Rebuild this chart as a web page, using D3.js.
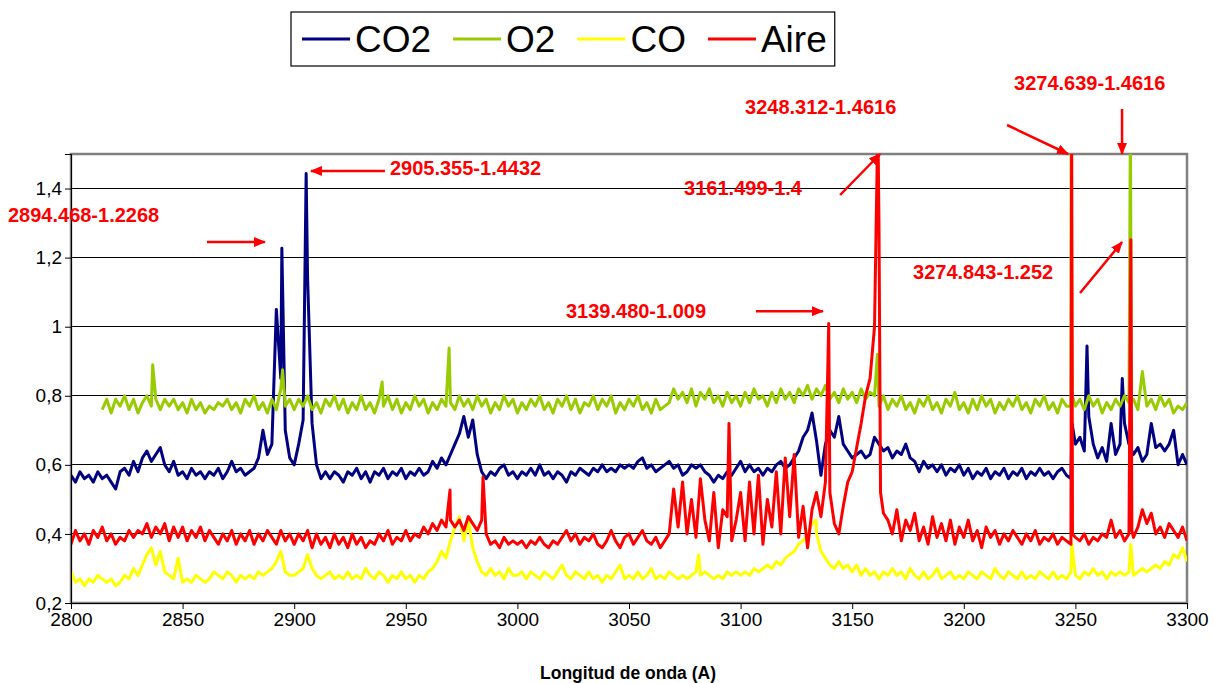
<!DOCTYPE html>
<html>
<head>
<meta charset="utf-8">
<script src="https://cdn.jsdelivr.net/npm/d3@7"></script>
<style>
body { margin: 0; background: #fff; }
svg { display: block; font-family: "Liberation Sans", Arial, sans-serif; }
</style>
</head>
<body>
<svg id="chart" width="1214" height="683"></svg>
<script>
// wavelength grid of the sampled spectra
var waveStart = 2800, waveStep = 2;

// CO2 (one value every 2 A, 2800..3300)
var co2 = [
  .57,.55,.58,.56,.57,.55,.58,.56,.57,.55,.53,.58,.59,.57,.61,.58,.62,.64,.61,.63,.65,.60,.58,.61,.57,
  .58,.56,.59,.57,.58,.56,.58,.57,.59,.56,.58,.61,.58,.59,.57,.58,.59,.62,.70,.63,.66,1.05,.85,.70,.62,
  .60,.66,.73,1.14,.72,.60,.56,.58,.56,.58,.57,.55,.58,.57,.59,.56,.58,.55,.58,.57,.59,.56,.58,.57,.59,
  .56,.58,.57,.59,.57,.58,.61,.59,.62,.60,.63,.66,.69,.74,.68,.73,.63,.58,.56,.58,.57,.59,.60,.57,.58,
  .56,.58,.57,.59,.57,.60,.57,.58,.56,.58,.57,.55,.58,.57,.59,.58,.57,.59,.58,.60,.58,.59,.58,.60,.59,
  .60,.59,.61,.62,.59,.60,.58,.59,.60,.61,.59,.60,.57,.58,.60,.59,.60,.58,.57,.55,.57,.56,.58,.57,.59,
  .61,.58,.60,.58,.59,.57,.59,.58,.60,.61,.59,.60,.62,.64,.68,.70,.75,.67,.57,.66,.70,.68,.74,.66,.64,
  .62,.63,.64,.62,.63,.68,.66,.64,.65,.62,.64,.63,.66,.62,.61,.58,.61,.59,.60,.58,.60,.57,.59,.58,.60,
  .57,.59,.56,.58,.57,.59,.56,.58,.57,.59,.56,.58,.57,.59,.56,.58,.57,.59,.57,.58,.56,.58,.59,.57,.56,
  .66,.68,.64,.74,.66,.62,.65,.61,.72,.63,.66,.72,.66,.63,.65,.61,.63,.72,.65,.66,.64,.66,.70,.60,.63,
  .60
];
var co2Peaks = [[2894.468, 1.2268], [2905.355, 1.4432], [3248.5, 0.72], [3255.2, 0.944], [3271, 0.85]];

// O2
var o2 = [
  null,null,null,null,null,null,null,.76,.79,.75,.79,.77,.80,.76,.79,.75,.78,.80,.77,.79,.76,.79,.77,.79,.76,
  .78,.75,.79,.76,.78,.75,.77,.76,.78,.77,.79,.76,.78,.75,.79,.77,.80,.76,.78,.75,.79,.76,.82,.77,.79,
  .76,.79,.77,.80,.76,.78,.75,.79,.77,.80,.76,.79,.75,.78,.76,.80,.76,.78,.75,.79,.77,.80,.76,.79,.75,
  .78,.76,.80,.77,.79,.75,.78,.76,.79,.77,.78,.76,.80,.77,.79,.76,.80,.77,.79,.75,.78,.76,.80,.77,.79,
  .75,.78,.76,.79,.77,.80,.76,.78,.75,.79,.77,.80,.76,.79,.75,.78,.77,.80,.76,.79,.77,.80,.75,.78,.76,
  .79,.77,.80,.76,.78,.75,.79,.76,.77,.78,.82,.79,.81,.78,.82,.77,.81,.79,.82,.78,.80,.77,.81,.78,.80,
  .77,.81,.78,.82,.79,.80,.77,.81,.78,.82,.79,.81,.78,.82,.80,.83,.79,.82,.80,.83,.79,.81,.78,.82,.79,
  .81,.78,.82,.79,.81,.80,.77,.80,.76,.79,.77,.80,.76,.78,.75,.79,.77,.80,.76,.78,.75,.79,.77,.81,.76,
  .78,.75,.79,.76,.80,.77,.79,.75,.78,.76,.79,.77,.80,.76,.78,.75,.79,.77,.80,.76,.78,.75,.79,.77,.77,
  .77,.79,.76,.80,.77,.79,.75,.78,.76,.79,.77,.80,.78,.79,.76,.87,.77,.79,.76,.80,.77,.79,.75,.77,.76,
  .78
];
var o2Peaks = [[2836.6, 0.89], [2894.8, 0.875], [2939.4, 0.84], [2969.4, 0.938], [3161.3, 0.92],
  [3248.1, 1.6], [3248.6, 0.80], [3274.639, 1.6], [3275.1, 0.79]];

// CO
var co = [
  .29,.26,.27,.25,.27,.26,.28,.27,.26,.27,.25,.26,.28,.27,.30,.28,.31,.34,.36,.31,.35,.29,.28,.27,.33,
  .26,.27,.26,.28,.27,.26,.27,.29,.28,.27,.29,.28,.26,.28,.27,.28,.27,.29,.28,.29,.30,.32,.35,.29,.28,
  .28,.29,.30,.34,.30,.28,.27,.28,.29,.27,.28,.27,.29,.27,.28,.27,.30,.28,.27,.29,.28,.26,.28,.27,.29,
  .27,.28,.26,.28,.27,.29,.30,.32,.35,.33,.38,.42,.45,.38,.44,.36,.32,.29,.28,.30,.28,.29,.27,.30,.28,
  .28,.29,.27,.29,.28,.27,.29,.28,.27,.29,.31,.28,.27,.29,.28,.27,.29,.27,.28,.26,.28,.27,.29,.31,.27,
  .28,.27,.29,.27,.28,.30,.27,.28,.27,.29,.28,.27,.28,.27,.28,.29,.28,.29,.28,.27,.28,.27,.29,.28,.29,
  .28,.29,.28,.30,.29,.30,.31,.30,.32,.31,.33,.34,.35,.37,.38,.40,.43,.40,.35,.33,.31,.30,.32,.30,.31,
  .29,.31,.28,.30,.28,.29,.27,.29,.28,.30,.28,.29,.27,.30,.28,.27,.29,.27,.28,.30,.27,.28,.29,.27,.28,
  .27,.29,.28,.27,.29,.28,.27,.30,.28,.27,.29,.28,.27,.29,.27,.28,.27,.29,.28,.27,.29,.27,.28,.27,.29,
  .28,.27,.29,.28,.30,.28,.29,.27,.29,.28,.29,.28,.29,.28,.29,.30,.29,.30,.31,.30,.32,.31,.34,.33,.36,
  .32
];
var coPeaks = [[3081.2, 0.34], [3133.8, 0.44], [3248.4, 0.37], [3274.8, 0.37]];

// Aire
var aire = [
  .37,.41,.38,.40,.37,.41,.39,.42,.38,.40,.37,.39,.38,.41,.39,.41,.40,.43,.39,.42,.40,.43,.38,.42,.39,
  .42,.38,.41,.39,.42,.38,.41,.39,.37,.40,.38,.41,.37,.40,.38,.41,.37,.40,.38,.41,.39,.37,.41,.38,.40,
  .37,.40,.38,.41,.36,.40,.37,.39,.36,.40,.37,.39,.36,.40,.37,.39,.36,.38,.37,.40,.38,.41,.37,.39,.38,
  .41,.38,.40,.39,.42,.40,.43,.41,.44,.42,.44,.42,.44,.41,.45,.43,.41,.44,.40,.37,.38,.36,.39,.37,.38,
  .37,.38,.36,.38,.37,.39,.37,.36,.38,.37,.39,.41,.38,.40,.37,.39,.38,.40,.37,.36,.38,.41,.38,.36,.39,
  .40,.37,.39,.41,.38,.37,.39,.36,.38,.40,.53,.42,.55,.40,.50,.39,.56,.44,.38,.52,.36,.47,.45,.38,.44,
  .52,.38,.55,.40,.57,.37,.50,.42,.58,.40,.62,.45,.63,.39,.48,.36,.47,.52,.45,.55,.52,.43,.40,.48,.55,
  .58,.65,.72,.80,.85,1.0,1.3,.46,.44,.40,.47,.38,.44,.41,.46,.38,.42,.37,.45,.39,.43,.38,.44,.37,.42,
  .39,.44,.38,.41,.36,.42,.39,.41,.37,.40,.38,.41,.39,.37,.40,.38,.41,.37,.39,.38,.40,.37,.39,.38,.37,
  .39,.38,.40,.37,.39,.38,.40,.39,.44,.39,.41,.38,.40,.39,.42,.47,.43,.46,.40,.42,.39,.43,.41,.39,.42,
  .38
];
var airePeaks = [[2969.8, 0.527], [2984.6, 0.565], [3094.8, 0.72], [3139.48, 1.009], [3161.499, 1.6],
  [3162.7, 0.52], [3248.312, 1.6], [3248.7, 0.40], [3274.843, 1.252], [3275.3, 0.41]];

var seriesNames = ["CO2", "O2", "CO", "Aire"];
var seriesColors = ["#000080", "#99cc00", "#ffff00", "#ff0000"];
var seriesValues = [co2, o2, co, aire];
var seriesPeaks = [co2Peaks, o2Peaks, coPeaks, airePeaks];

var xTicks = [2800, 2850, 2900, 2950, 3000, 3050, 3100, 3150, 3200, 3250, 3300];
var yTicks = [0.2, 0.4, 0.6, 0.8, 1.0, 1.2, 1.4];

// labelled maxima: tip in data units, tail and text offsets in px from the tip
var notes = [
  {text: "2894.468-1.2268", wl: 2886.9, val: 1.245, tail: [-58, 0], label: [-257, -27]},
  {text: "2905.355-1.4432", wl: 2907.5, val: 1.451, tail: [74, 0], label: [79, -3]},
  {text: "3139.480-1.009", wl: 3136.9, val: 1.045, tail: [-67, 0], label: [-257, 0]},
  {text: "3161.499-1.4", wl: 3162.5, val: 1.5, tail: [-40, 41], label: [-196, 34]},
  {text: "3248.312-1.4616", wl: 3246.7, val: 1.5, tail: [-61, -29], label: [-323, -47]},
  {text: "3274.639-1.4616", wl: 3270.9, val: 1.5, tail: [0, -45], label: [-108, -71]},
  {text: "3274.843-1.252", wl: 3270.9, val: 1.245, tail: [-42, 51], label: [-209, 30]}
];

var svg = d3.select("#chart");
var margin = {left: 71, right: 27, top: 154, bottom: 80};
var W = 1214, H = 683;

var x = d3.scaleLinear().domain([2800, 3300]).range([margin.left, W - margin.right]);
var y = d3.scaleLinear().domain([0.2, 1.5]).range([H - margin.bottom, margin.top]);

function commaFmt(v) { return String(+v.toFixed(1)).replace(".", ","); }

// gridlines
svg.append("g")
  .selectAll("line")
  .data(yTicks.slice(1))
  .enter().append("line")
    .attr("x1", x(2800)).attr("x2", x(3300))
    .attr("y1", d => y(d)).attr("y2", d => y(d))
    .attr("stroke", "#000").attr("stroke-width", 1).attr("shape-rendering", "crispEdges");

// plot frame
svg.append("rect")
  .attr("x", x(2800)).attr("y", y(1.5))
  .attr("width", x(3300) - x(2800)).attr("height", y(0.2) - y(1.5))
  .attr("fill", "none").attr("stroke", "#808080").attr("stroke-width", 2.5);

svg.append("defs").append("clipPath").attr("id", "plotclip")
  .append("rect")
  .attr("x", x(2800)).attr("y", y(1.5))
  .attr("width", x(3300) - x(2800)).attr("height", y(0.2) - y(1.5));

// build point lists: grid samples + extra peak samples, sorted by wavelength
function buildSeries(values, peaks) {
  var pts = [];
  values.forEach(function(v, i) {
    if (v !== null) pts.push([waveStart + i * waveStep, v]);
  });
  peaks.forEach(function(p) { pts.push(p); });
  pts.sort(function(a, b) { return a[0] - b[0]; });
  return pts;
}

var line = d3.line()
  .x(d => x(d[0]))
  .y(d => y(d[1]));

svg.append("g")
  .attr("clip-path", "url(#plotclip)")
  .selectAll("path")
  .data(seriesValues.map((v, i) => buildSeries(v, seriesPeaks[i])))
  .enter().append("path")
    .attr("d", line)
    .attr("fill", "none")
    .attr("stroke", (d, i) => seriesColors[i])
    .attr("stroke-width", 3)
    .attr("stroke-linejoin", "round");

// axes
var xAxis = d3.axisBottom(x).tickValues(xTicks).tickSize(6).tickPadding(4).tickFormat(d3.format("d"));
var gx = svg.append("g").attr("transform", "translate(0," + y(0.2) + ")").call(xAxis);
gx.select(".domain").attr("stroke", "#000");
gx.selectAll("text").attr("font-size", "19px").attr("fill", "#000")
  .attr("font-family", "'Liberation Sans', Arial, sans-serif");

var yAxis = d3.axisLeft(y).tickValues(yTicks).tickSize(6).tickPadding(3).tickFormat(commaFmt);
var gy = svg.append("g").attr("transform", "translate(" + x(2800) + ",0)").call(yAxis);
gy.select(".domain").attr("stroke", "#000");
gy.selectAll("text").attr("font-size", "19px").attr("fill", "#000")
  .attr("font-family", "'Liberation Sans', Arial, sans-serif");

svg.append("text")
  .attr("x", (x(2800) + x(3300)) / 2 - 1)
  .attr("y", 679)
  .attr("text-anchor", "middle")
  .attr("font-size", "17.5px")
  .attr("font-weight", "bold")
  .text("Longitud de onda (A)");

// annotations
svg.select("defs").append("marker")
  .attr("id", "head")
  .attr("viewBox", "0 0 12 10")
  .attr("refX", 11).attr("refY", 5)
  .attr("markerWidth", 12).attr("markerHeight", 10)
  .attr("markerUnits", "userSpaceOnUse")
  .attr("orient", "auto")
  .append("path").attr("d", "M0,0 L12,5 L0,10 Z").attr("fill", "#ff0000");

var ann = svg.append("g");
notes.forEach(function(n) {
  var tx = x(n.wl), ty = y(n.val);
  ann.append("line")
    .attr("x1", tx + n.tail[0]).attr("y1", ty + n.tail[1])
    .attr("x2", tx).attr("y2", ty)
    .attr("stroke", "#ff0000").attr("stroke-width", 2.5)
    .attr("marker-end", "url(#head)");
  ann.append("text")
    .attr("x", tx + n.label[0]).attr("y", ty + n.label[1])
    .attr("dy", "0.35em")
    .attr("font-size", "20px").attr("font-weight", "bold")
    .attr("fill", "#ff0000")
    .text(n.text);
});

// legend
var leg = svg.append("g");
var legBox = leg.append("rect")
  .attr("x", 291).attr("y", 12).attr("height", 54)
  .attr("fill", "#fff").attr("stroke", "#000").attr("stroke-width", 1.2);
var cursor = 302;
seriesNames.forEach(function(name, i) {
  leg.append("line")
    .attr("x1", cursor).attr("x2", cursor + 48)
    .attr("y1", 39).attr("y2", 39)
    .attr("stroke", seriesColors[i]).attr("stroke-width", 3);
  var t = leg.append("text")
    .attr("x", cursor + 53).attr("y", 52)
    .attr("font-size", "37px")
    .text(name);
  cursor += 53 + t.node().getComputedTextLength() + 22;
});
legBox.attr("width", cursor - 22 + 8 - 291);
</script>
</body>
</html>
